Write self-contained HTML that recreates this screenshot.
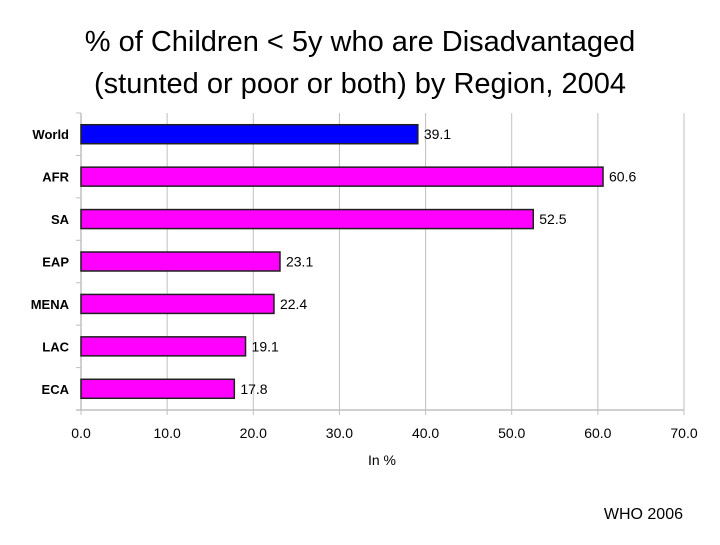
<!DOCTYPE html>
<html><head><meta charset="utf-8"><style>
body{margin:0;background:#fff;width:720px;height:540px;overflow:hidden;font-family:"Liberation Sans",sans-serif}
</style></head><body>
<svg width="720" height="540" xmlns="http://www.w3.org/2000/svg">
<text x="360" y="51" text-anchor="middle" font-size="29" fill="#000">% of Children &lt; 5y who are Disadvantaged</text>
<text x="360" y="93" text-anchor="middle" font-size="29" fill="#000">(stunted or poor or both) by Region, 2004</text>
<g id="plot"></g>
<text x="382" y="465" text-anchor="middle" font-size="14" fill="#000">In %</text>
<text x="683" y="519" text-anchor="end" font-size="16" fill="#000">WHO 2006</text>
</svg>
<script>
const categories=["World","AFR","SA","EAP","MENA","LAC","ECA"];
const values=[39.1,60.6,52.5,23.1,22.4,19.1,17.8];
const colors=["#0000ff","#ff00ff","#ff00ff","#ff00ff","#ff00ff","#ff00ff","#ff00ff"];
const ticks=[0,10,20,30,40,50,60,70];
const X0=81,X1=684,Y0=113,Y1=410,XMAX=70;
const sx=v=>X0+(X1-X0)*v/XMAX;
const band=(Y1-Y0)/categories.length;
const g=document.getElementById('plot');
const NS="http://www.w3.org/2000/svg";
function mk(t,a){const e=document.createElementNS(NS,t);for(const k in a)e.setAttribute(k,a[k]);g.appendChild(e);return e;}
ticks.forEach((t,i)=>{
 const l=mk('line',{x1:sx(t),x2:sx(t),y1:Y0,y2:Y1+5,stroke:'#c0c0c0','stroke-width':1});
 
 
 const tx=mk('text',{x:sx(t),y:Y1+28,'text-anchor':'middle','font-size':14,fill:'#000'});
 tx.textContent=t.toFixed(1);
 
 
});
const ax=mk('line',{x1:X0-5,x2:X1,y1:Y1,y2:Y1,stroke:'#c0c0c0','stroke-width':1.5});


const ay=mk('line',{x1:X0,x2:X0,y1:Y0,y2:Y1,stroke:'#c0c0c0','stroke-width':1.5});


for(let i=0;i<=categories.length;i++){
 const tk=mk('line',{x1:X0-5,x2:X0,y1:Y0+i*band,y2:Y0+i*band,stroke:'#c0c0c0','stroke-width':1});
 
 
}
categories.forEach((c,i)=>{
 const cy=Y0+band*(i+0.5);
 const r=mk('rect',{x:X0,y:cy-9.5,width:sx(values[i])-X0,height:19,fill:colors[i],stroke:'#202020','stroke-width':1.5});
 
 
 const lb=mk('text',{x:X0-12,y:cy+5,'text-anchor':'end','font-size':13,'font-weight':'bold',fill:'#000'});
 lb.textContent=c;
 
 
 const v=mk('text',{x:sx(values[i])+6,y:cy+5,'font-size':14,fill:'#000'});
 v.textContent=values[i].toFixed(1);
 
 
});
</script>
</body></html>
